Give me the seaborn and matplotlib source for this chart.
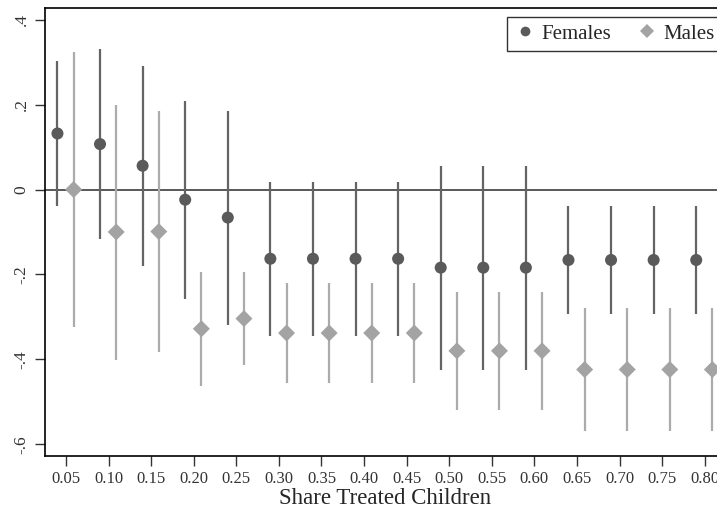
import pandas as pd
import numpy as np
import seaborn as sns
import matplotlib.pyplot as plt

share = [0.05, 0.10, 0.15, 0.20, 0.25, 0.30, 0.35, 0.40,
         0.45, 0.50, 0.55, 0.60, 0.65, 0.70, 0.75, 0.80]

fem_coef = [0.132, 0.107, 0.056, -0.024, -0.066, -0.163, -0.163, -0.163,
            -0.163, -0.184, -0.184, -0.184, -0.166, -0.166, -0.166, -0.166]
fem_lo = [-0.038, -0.116, -0.180, -0.257, -0.318, -0.344, -0.344, -0.344,
          -0.344, -0.425, -0.425, -0.425, -0.293, -0.293, -0.293, -0.293]
fem_hi = [0.303, 0.331, 0.292, 0.209, 0.186, 0.017, 0.017, 0.017,
          0.017, 0.056, 0.056, 0.056, -0.039, -0.039, -0.039, -0.039]

male_coef = [0.000, -0.100, -0.099, -0.328, -0.304, -0.338, -0.338, -0.338,
             -0.338, -0.380, -0.380, -0.380, -0.424, -0.424, -0.424, -0.424]
male_lo = [-0.325, -0.402, -0.382, -0.463, -0.414, -0.456, -0.456, -0.456,
           -0.456, -0.519, -0.519, -0.519, -0.569, -0.569, -0.569, -0.569]
male_hi = [0.324, 0.200, 0.186, -0.194, -0.194, -0.220, -0.220, -0.220,
           -0.220, -0.242, -0.242, -0.242, -0.278, -0.278, -0.278, -0.278]

sns.set_theme(style="white")
plt.rcParams["font.family"] = ["Liberation Serif", "DejaVu Serif"]

fem = pd.DataFrame({"x": np.array(share) - 0.01, "coef": fem_coef,
                    "lo": fem_lo, "hi": fem_hi, "group": "Females"})
male = pd.DataFrame({"x": np.array(share) + 0.009, "coef": male_coef,
                     "lo": male_lo, "hi": male_hi, "group": "Males"})
df = pd.concat([fem, male], ignore_index=True)

fem_col = "#5a5a5a"
male_col = "#a3a3a3"

fig = plt.figure(figsize=(7.17, 5.14), dpi=100)
ax = fig.add_axes([0.0623, 0.1134, 0.9503, 0.871])

ax.axhline(0, color="#3c3c3c", lw=1.2, zorder=1)
ax.vlines(fem["x"], fem["lo"], fem["hi"], color="#646464", lw=1.6, zorder=2)
ax.vlines(male["x"], male["lo"], male["hi"], color="#ababab", lw=1.6, zorder=2)

sns.scatterplot(data=df, x="x", y="coef", hue="group", style="group",
                palette={"Females": fem_col, "Males": male_col},
                markers={"Females": "o", "Males": "D"},
                s=75, linewidth=0, ax=ax, zorder=3)

ax.set_xlim(0.025, 0.825)
ax.set_ylim(-0.627, 0.4275)
ax.set_xticks(share)
ax.set_xticklabels([f"{v:.2f}" for v in share], fontsize=12, color="#333333")
yt = [-0.6, -0.4, -0.2, 0, 0.2, 0.4]
ax.set_yticks(yt)
ax.set_yticklabels(["-.6", "-.4", "-.2", "0", ".2", ".4"], rotation=90,
                   va="center", fontsize=12.5, color="#333333")
ax.tick_params(axis="both", length=7, width=1, color="#333333", direction="out",
               bottom=True, left=True, pad=4)
ax.set_xlabel("Share Treated Children", fontsize=16.5, labelpad=1)
ax.set_ylabel("")

for side in ["top", "left", "bottom", "right"]:
    ax.spines[side].set_color("black")
    ax.spines[side].set_linewidth(1.2)

handles, labels = ax.get_legend_handles_labels()
for h in handles:
    h.set_markersize(7)
leg = ax.legend(handles, labels, loc="upper right", ncol=2, frameon=True,
                fancybox=False, fontsize=15, borderpad=0.35, columnspacing=1.2,
                handletextpad=0.3, handlelength=1.0, borderaxespad=0.2,
                bbox_to_anchor=(1.0, 0.99))
leg.get_frame().set_edgecolor("black")
leg.get_frame().set_linewidth(1.0)

plt.savefig("out.png", dpi=100)
